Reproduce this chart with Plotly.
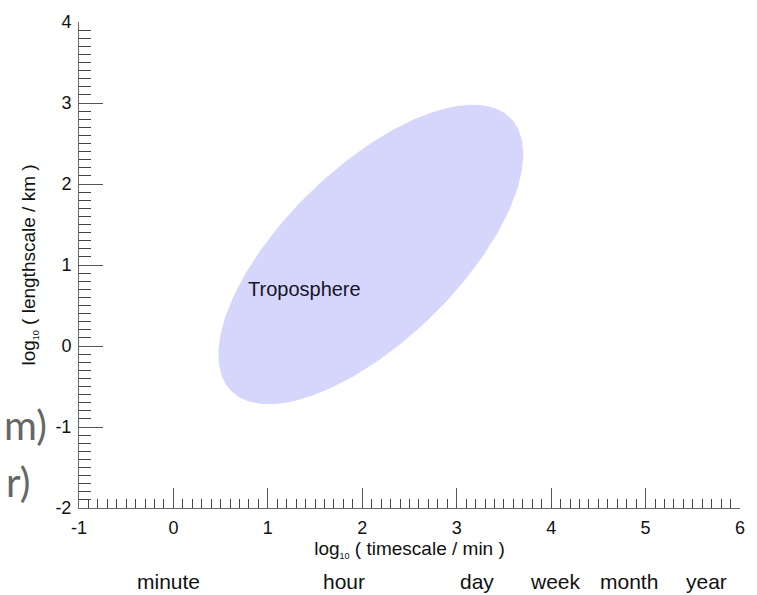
import numpy as np
import plotly.graph_objects as go

# ---- data ----
x_range = [-1, 6]
y_range = [-2, 4]
x_major = [-1, 0, 1, 2, 3, 4, 5, 6]
y_major = [-2, -1, 0, 1, 2, 3, 4]

# Troposphere region (ellipse): centre and conjugate semi-axis vectors in data units
ellipse_center = (2.09, 1.13)
ellipse_major = (1.475, 1.689)
ellipse_minor = (-0.656, 0.751)
region_label = "Troposphere"
region_label_pos = (0.77, 0.70)

# time-scale names along the bottom (positions on the log10 minute axis)
time_names = ["minute", "hour", "day", "week", "month", "year"]
time_pos = [-0.05, 1.81, 3.22, 4.05, 4.82, 5.65]

FONT = "Liberation Sans, Arial, Helvetica, sans-serif"

t = np.linspace(0, 2 * np.pi, 241)
ex = ellipse_center[0] + np.cos(t) * ellipse_major[0] + np.sin(t) * ellipse_minor[0]
ey = ellipse_center[1] + np.cos(t) * ellipse_major[1] + np.sin(t) * ellipse_minor[1]

fig = go.Figure()
fig.add_trace(go.Scatter(
    x=ex, y=ey, mode="lines", fill="toself",
    fillcolor="#d6d6fc", line=dict(width=0, color="#d6d6fc"),
    hoverinfo="skip", showlegend=False,
))

fig.add_annotation(
    x=region_label_pos[0], y=region_label_pos[1], text=region_label,
    showarrow=False, xanchor="left", yanchor="middle",
    font=dict(family=FONT, size=20, color="#15152a"),
)

for name, pos in zip(time_names, time_pos):
    fig.add_annotation(
        x=pos, y=-0.152, xref="x", yref="paper", text=name,
        showarrow=False, xanchor="center", yanchor="middle",
        font=dict(family=FONT, size=21, color="#111111"),
    )

# cropped fragments visible at the left edge of the reference
fig.add_annotation(x=-0.046, y=0.171, xref="paper", yref="paper", text="m)",
                   showarrow=False, xanchor="right", yanchor="middle",
                   font=dict(family="Lato, Open Sans, sans-serif", size=40, color="#666666"))
fig.add_annotation(x=-0.071, y=0.054, xref="paper", yref="paper", text="r)",
                   showarrow=False, xanchor="right", yanchor="middle",
                   font=dict(family="Lato, Open Sans, sans-serif", size=40, color="#666666"))

axis_common = dict(
    showline=True, linecolor="#6a6a6a", linewidth=1,
    showgrid=False, zeroline=False, mirror=False,
    ticks="inside", tickcolor="#555555", tickwidth=1,
    tickfont=dict(family=FONT, size=18, color="#111111"),
    ticklabelstandoff=3,
)

fig.update_xaxes(
    range=x_range, tickmode="array", tickvals=x_major,
    ticktext=[str(v) for v in x_major], ticklen=20,
    minor=dict(ticks="inside", ticklen=9, dtick=0.1, tick0=0,
               tickcolor="#444444", tickwidth=1, showgrid=False),
    title=dict(text="log<sub><span style='font-size:9px'>10</span></sub> ( timescale / min )",
               font=dict(family=FONT, size=19, color="#111111"), standoff=4),
    **axis_common,
)
fig.update_yaxes(
    range=y_range, tickmode="array", tickvals=y_major,
    ticktext=[str(v) for v in y_major], ticklen=24,
    minor=dict(ticks="inside", ticklen=12, dtick=0.1, tick0=0,
               tickcolor="#444444", tickwidth=1, showgrid=False),
    title=dict(text="log<sub><span style='font-size:9px'>10</span></sub> ( lengthscale / km )",
               font=dict(family=FONT, size=19, color="#111111"), standoff=14),
    **axis_common,
)

fig.update_layout(
    width=757, height=595,
    margin=dict(l=79, r=17, t=13, b=87),
    paper_bgcolor="white", plot_bgcolor="white",
    showlegend=False,
)

fig.write_html("out.html")
